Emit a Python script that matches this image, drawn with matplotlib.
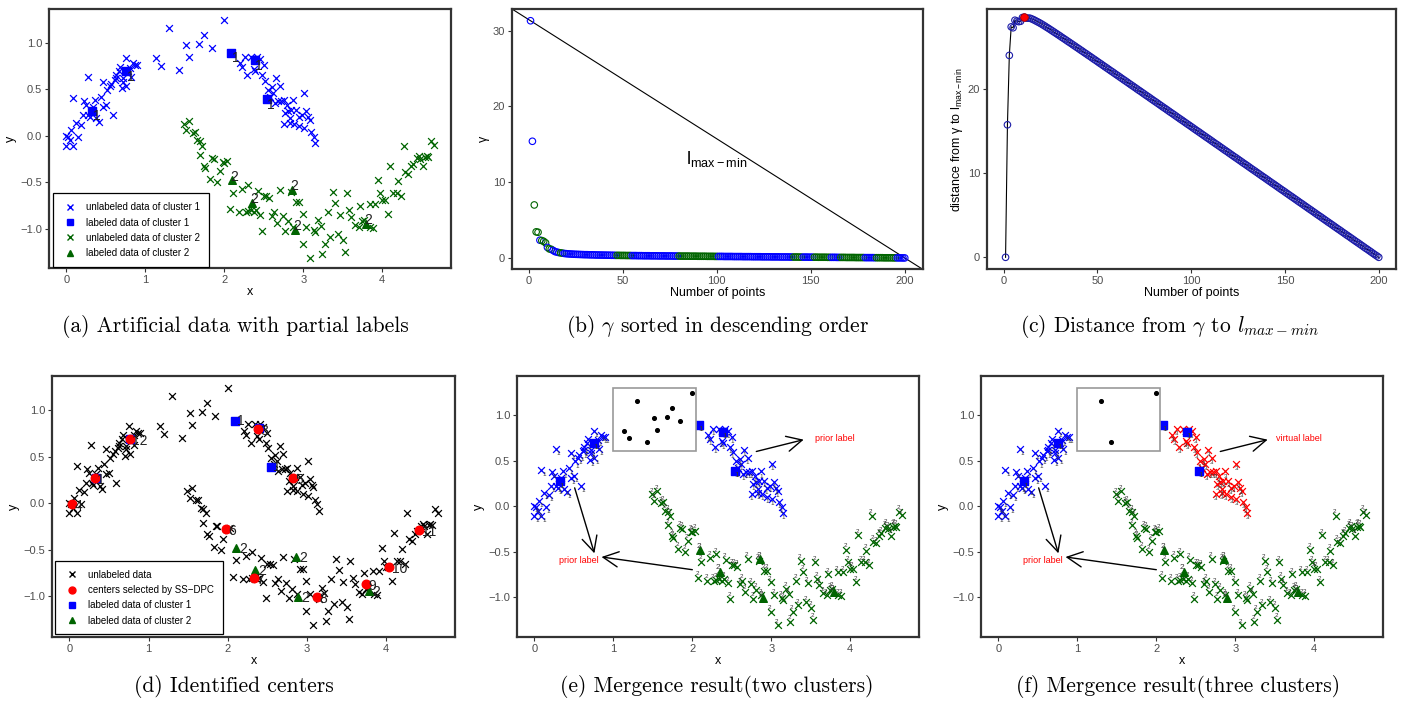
import numpy as np
import matplotlib
matplotlib.use("Agg")
import matplotlib.pyplot as plt
from matplotlib.patches import Rectangle
from matplotlib.lines import Line2D

plt.rcParams['font.family'] = ['Liberation Sans', 'DejaVu Sans']
plt.rcParams['mathtext.fontset'] = 'cm'

# ---- two-moons data ----
c1_left_x = [-0.01, 0.00, 0.05, 0.09, 0.02, 0.06, 0.15, 0.09, 0.12, 0.18,
             0.21, 0.22, 0.25, 0.27, 0.28, 0.34, 0.30, 0.38, 0.41, 0.44,
             0.46, 0.50, 0.51, 0.55, 0.59, 0.57, 0.61, 0.63, 0.66, 0.68,
             0.70, 0.72, 0.75, 0.76, 0.78, 0.81, 0.84, 0.87, 0.89, 0.82,
             0.72, 0.63, 0.46, 0.36]
c1_left_y = [0.00, -0.11, -0.05, -0.11, -0.01, 0.06, -0.01, 0.40, 0.14, 0.12,
             0.22, 0.37, 0.33, 0.63, 0.22, 0.31, 0.20, 0.19, 0.15, 0.42,
             0.58, 0.33, 0.49, 0.53, 0.22, 0.56, 0.60, 0.65, 0.69, 0.74,
             0.51, 0.58, 0.83, 0.53, 0.69, 0.73, 0.78, 0.76, 0.76, 0.63,
             0.62, 0.62, 0.31, 0.38]
c1_arc_x = [1.14, 1.20, 1.30, 1.42, 1.52, 1.55, 1.68, 1.74, 1.84, 2.00]
c1_arc_y = [0.83, 0.75, 1.16, 0.70, 0.97, 0.84, 0.98, 1.08, 0.94, 1.24]
c1_right_x = [2.20, 2.23, 2.26, 2.29, 2.34, 2.37, 2.41, 2.39, 2.45, 2.48,
              2.50, 2.51, 2.55, 2.58, 2.60, 2.62, 2.66, 2.70, 2.64, 2.68,
              2.72, 2.75, 2.79, 2.77, 2.81, 2.75, 2.83, 2.87, 2.85, 2.91,
              2.94, 2.98, 3.01, 2.95, 3.01, 3.04, 3.06, 3.08, 3.10, 3.13,
              3.15, 2.88, 2.83]
c1_right_y = [0.78, 0.74, 0.85, 0.65, 0.85, 0.72, 0.85, 0.69, 0.82, 0.65,
              0.76, 0.59, 0.49, 0.42, 0.52, 0.46, 0.62, 0.53, 0.35, 0.37,
              0.37, 0.38, 0.33, 0.24, 0.26, 0.13, 0.19, 0.38, 0.28, 0.28,
              0.20, 0.22, 0.46, 0.10, 0.08, 0.26, 0.20, 0.17, 0.04, -0.01,
              -0.08, 0.13, 0.14]
c2_x = [1.49, 1.55, 1.52, 1.60, 1.63, 1.66, 1.69, 1.72, 1.69, 1.74,
        1.76, 1.82, 1.85, 1.87, 1.91, 1.94, 1.98, 2.00, 2.03, 2.07,
        2.11, 2.19, 2.23, 2.27, 2.30, 2.30, 2.34, 2.37, 2.40, 2.42,
        2.45, 2.48, 2.50, 2.53, 2.57, 2.60, 2.63, 2.67, 2.70, 2.74,
        2.77, 2.81, 2.84, 2.87, 2.91, 2.95, 2.99, 2.99, 3.04, 3.08,
        3.13, 3.15, 3.19, 3.22, 3.24, 3.27, 3.31, 3.34, 3.37, 3.40,
        3.44, 3.46, 3.50, 3.53, 3.55, 3.58, 3.61, 3.66, 3.70, 3.72,
        3.74, 3.77, 3.84, 3.85, 3.88, 3.91, 3.95, 3.97, 4.00, 4.03,
        4.07, 4.10, 4.14, 4.18, 4.20, 4.24, 4.27, 4.29, 4.33, 4.36,
        4.39, 4.44, 4.46, 4.48, 4.52, 4.56, 4.58, 4.62, 4.65, 4.54]
c2_y = [0.13, 0.16, 0.06, 0.03, 0.04, -0.05, -0.06, -0.11, -0.21, -0.33,
        -0.35, -0.47, -0.24, -0.25, -0.50, -0.38, -0.28, -0.29, -0.27, -0.79,
        -0.61, -0.82, -0.57, -0.82, -0.53, -0.81, -0.80, -0.82, -0.80, -0.59,
        -0.85, -1.02, -0.65, -0.65, -0.67, -0.86, -0.82, -0.94, -0.58, -0.86,
        -1.02, -0.92, -0.60, -0.98, -0.71, -0.71, -0.84, -1.16, -0.98, -1.31,
        -1.01, -1.03, -0.91, -0.97, -1.27, -1.16, -0.82, -1.09, -0.60, -0.72,
        -1.06, -0.85, -1.12, -1.25, -0.62, -0.80, -0.87, -0.96, -0.98, -0.75,
        -0.92, -0.91, -0.73, -0.98, -0.99, -0.73, -0.48, -0.62, -0.69, -0.69,
        -0.84, -0.32, -0.62, -0.62, -0.49, -0.65, -0.11, -0.39, -0.41, -0.33,
        -0.30, -0.24, -0.22, -0.25, -0.33, -0.22, -0.23, -0.06, -0.10, -0.23]
sq_x = [0.33, 0.76, 2.09, 2.39, 2.54]
sq_y = [0.27, 0.69, 0.89, 0.81, 0.39]
sq_shown_d = [2, 4]          # squares not hidden by a centre in panel d
tri_x = [2.10, 2.35, 2.86, 2.89, 3.79]
tri_y = [-0.48, -0.72, -0.58, -1.01, -0.95]

cen_x = [0.32, 0.76, 2.38, 0.03, 2.82, 1.98, 2.33, 3.13, 3.75, 4.04, 4.42]
cen_y = [0.27, 0.69, 0.80, -0.01, 0.27, -0.28, -0.81, -1.01, -0.87, -0.69, -0.29]
cen_lab = ['1', '12', '3', '4', '5', '6', '7', '8', '9', '10', '11']

# points left in the inset of panel f
f_inset_x = [1.30, 1.42, 2.00]
f_inset_y = [1.16, 0.70, 1.24]

# ---- gamma sorted (panel b) ----
gamma = [31.3, 15.4, 7.0, 3.45, 3.4, 2.35, 2.3, 2.2, 2.0, 1.4,
         1.2, 1.15, 1.0, 0.85, 0.78, 0.72, 0.68, 0.64, 0.60, 0.57,
         0.55, 0.53, 0.52, 0.50, 0.49, 0.48, 0.47, 0.46, 0.45, 0.44,
         0.44, 0.43, 0.42, 0.42, 0.41, 0.40, 0.40, 0.39, 0.39, 0.38,
         0.38, 0.37, 0.37, 0.36, 0.36, 0.35, 0.35, 0.35, 0.34, 0.34,
         0.34, 0.33, 0.33, 0.33, 0.32, 0.32, 0.32, 0.31, 0.31, 0.31,
         0.30, 0.30, 0.30, 0.30, 0.29, 0.29, 0.29, 0.29, 0.28, 0.28,
         0.28, 0.28, 0.27, 0.27, 0.27, 0.27, 0.26, 0.26, 0.26, 0.26,
         0.25, 0.25, 0.25, 0.25, 0.25, 0.24, 0.24, 0.24, 0.24, 0.23,
         0.23, 0.23, 0.23, 0.23, 0.22, 0.22, 0.22, 0.22, 0.21, 0.21,
         0.21, 0.21, 0.21, 0.20, 0.20, 0.20, 0.20, 0.20, 0.19, 0.19,
         0.19, 0.19, 0.19, 0.18, 0.18, 0.18, 0.18, 0.18, 0.17, 0.17,
         0.17, 0.17, 0.17, 0.16, 0.16, 0.16, 0.16, 0.16, 0.15, 0.15,
         0.15, 0.15, 0.15, 0.14, 0.14, 0.14, 0.14, 0.14, 0.13, 0.13,
         0.13, 0.13, 0.13, 0.12, 0.12, 0.12, 0.12, 0.12, 0.11, 0.11,
         0.11, 0.11, 0.11, 0.10, 0.10, 0.10, 0.10, 0.10, 0.09, 0.09,
         0.09, 0.09, 0.09, 0.08, 0.08, 0.08, 0.08, 0.08, 0.07, 0.07,
         0.07, 0.07, 0.07, 0.06, 0.06, 0.06, 0.06, 0.06, 0.05, 0.05,
         0.05, 0.05, 0.05, 0.04, 0.04, 0.04, 0.04, 0.04, 0.03, 0.03,
         0.03, 0.03, 0.03, 0.02, 0.02, 0.02, 0.02, 0.02, 0.01, 0.01]
# cluster of each sorted point, as (cluster, run length)
gamma_runs = [('1', 2), ('2', 3), ('1', 1), ('2', 3), ('1', 1), ('2', 2), ('1', 4),
              ('2', 2), ('1', 28), ('2', 8), ('1', 25), ('2', 21), ('1', 40),
              ('2', 5), ('1', 6), ('2', 9), ('1', 5), ('2', 13), ('1', 6),
              ('2', 11), ('1', 5)]

moon_xticks = [0, 1, 2, 3, 4]
moon_yticks = [-1.0, -0.5, 0.0, 0.5, 1.0]
moon_ylabels = ['\u22121.0', '\u22120.5', '0.0', '0.5', '1.0']

BLUE, GREEN, RED = '#0000FF', '#006400', '#FF0000'

W, H = 1406, 709
fig = plt.figure(figsize=(W / 100, H / 100), dpi=100)


def box(l, t, r, b):
    return fig.add_axes([l / W, 1 - b / H, (r - l) / W, (b - t) / H])


def style(ax, xlabel, ylabel):
    for s in ax.spines.values():
        s.set_linewidth(1.6)
        s.set_color('#333333')
    ax.tick_params(direction='out', length=3, width=0.8, color='#333333',
                   labelsize=8, labelcolor='#4d4d4d', pad=2)
    ax.set_xlabel(xlabel, fontsize=9, labelpad=1)
    ax.set_ylabel(ylabel, fontsize=9, labelpad=2)


def moon(ax, ylim=(-1.42, 1.36)):
    ax.set_xlim(-0.22, 4.87)
    ax.set_ylim(*ylim)
    ax.set_xticks(moon_xticks)
    ax.set_yticks(moon_yticks)
    ax.set_yticklabels(moon_ylabels)
    style(ax, 'x', 'y')


def xs(ax, x, y, c, s=24, lw=0.9):
    ax.scatter(x, y, marker='x', s=s, c=c, linewidths=lw, zorder=2)


def tags(ax, x, y, t, dx, dy, size=4.5, color='#333333'):
    for xi, yi in zip(x, y):
        ax.text(xi + dx, yi + dy, t, fontsize=size, color=color,
                ha='center', va='center', zorder=3)


def legend(ax, handles, labels, anchor):
    lg = ax.legend(handles, labels, loc='lower left', bbox_to_anchor=anchor,
                   borderaxespad=0, fontsize=7, fancybox=False, edgecolor='black',
                   framealpha=1, labelspacing=0.55, borderpad=0.9,
                   handletextpad=0.9, handlelength=1.6)
    lg.get_frame().set_linewidth(0.9)


c1_all_x = c1_left_x + c1_arc_x + c1_right_x
c1_all_y = c1_left_y + c1_arc_y + c1_right_y

# ---- (a) ----
ax = box(49, 9, 451, 268)
xs(ax, c1_all_x, c1_all_y, BLUE)
ax.scatter(sq_x, sq_y, marker='s', s=30, c=BLUE, zorder=3)
xs(ax, c2_x, c2_y, GREEN)
ax.scatter(tri_x, tri_y, marker='^', s=30, c=GREEN, zorder=3)
tags(ax, sq_x, sq_y, '1', 0.05, -0.06, size=10, color='#222222')
tags(ax, tri_x, tri_y, '2', 0.03, 0.04, size=10, color='#222222')
moon(ax)
legend(ax, [Line2D([], [], ls='', marker='x', color=BLUE, ms=5),
            Line2D([], [], ls='', marker='s', color=BLUE, ms=5),
            Line2D([], [], ls='', marker='x', color=GREEN, ms=5),
            Line2D([], [], ls='', marker='^', color=GREEN, ms=5)],
       ['unlabeled data of cluster 1', 'labeled data of cluster 1',
        'unlabeled data of cluster 2', 'labeled data of cluster 2'], (0.01, 0.004))

# ---- (b) ----
ax = box(512, 9, 923, 269)
idx = np.arange(1, len(gamma) + 1)
clu = ''.join(c * n for c, n in gamma_runs)
cols = [BLUE if c == '1' else GREEN for c in clu]
ax.axline((1, gamma[0]), (len(gamma), gamma[-1]), color='black', lw=0.8)
ax.scatter(idx, gamma, s=22, facecolors='none', edgecolors=cols, linewidths=0.8, zorder=3)
ax.text(100, 13.0, r'$\mathregular{l_{max-min}}$', fontsize=13, ha='center', va='center')
ax.set_xlim(-8.85, 209.7)
ax.set_ylim(-1.45, 32.85)
ax.set_xticks([0, 50, 100, 150, 200])
ax.set_yticks([0, 10, 20, 30])
style(ax, 'Number of points', 'γ')

# ---- (c) ----
ax = box(987, 9, 1396, 269)
g = np.array(gamma)
line = g[0] + (g[-1] - g[0]) * (idx - 1) / (len(g) - 1)
dist = line - g
k = int(np.argmax(dist))
ax.plot(idx, dist, color='black', lw=0.8, zorder=2)
ax.scatter(idx, dist, s=22, facecolors='none', edgecolors='#1c1ca8', linewidths=0.8, zorder=3)
ax.scatter(idx[k], dist[k], s=30, c=RED, edgecolors='#aa0000', linewidths=0.6, zorder=4)
ax.set_xlim(-8.9, 209.2)
ax.set_ylim(-1.39, 29.5)
ax.set_xticks([0, 50, 100, 150, 200])
ax.set_yticks([0, 10, 20])
style(ax, 'Number of points', r'distance from γ to $\mathregular{l_{max-min}}$')

# ---- (d) ----
ax = box(52, 376, 455, 637)
xs(ax, c1_all_x + c2_x, c1_all_y + c2_y, 'black')
ax.scatter(sq_x, sq_y, marker='s', s=30, c=BLUE, zorder=3)
ax.scatter(tri_x, tri_y, marker='^', s=30, c=GREEN, zorder=3)
ax.scatter(cen_x, cen_y, marker='o', s=38, c=RED, zorder=4)
tags(ax, [sq_x[i] for i in sq_shown_d], [sq_y[i] for i in sq_shown_d], '1', 0.08, 0.0,
     size=10, color='#222222')
tags(ax, tri_x, tri_y, '2', 0.09, -0.01, size=10, color='#222222')
for xi, yi, t in zip(cen_x, cen_y, cen_lab):
    ax.text(xi + 0.03, yi - 0.02, t, fontsize=10, color='#222222', ha='left', va='center', zorder=5)
moon(ax, (-1.44, 1.37))
legend(ax, [Line2D([], [], ls='', marker='x', color='black', ms=5),
            Line2D([], [], ls='', marker='o', color=RED, ms=5),
            Line2D([], [], ls='', marker='s', color=BLUE, ms=5),
            Line2D([], [], ls='', marker='^', color=GREEN, ms=5)],
       ['unlabeled data', 'centers selected by SS\u2212DPC',
        'labeled data of cluster 1', 'labeled data of cluster 2'], (0.008, 0.01))


def merged(ax, right_col, right_tag, inset_x, inset_y, note):
    xs(ax, c1_left_x, c1_left_y, BLUE)
    xs(ax, c1_right_x, c1_right_y, right_col)
    xs(ax, c2_x, c2_y, GREEN)
    tags(ax, c1_left_x, c1_left_y, '1', 0.03, -0.05)
    tags(ax, c1_right_x, c1_right_y, right_tag, 0.0, -0.05)
    tags(ax, c2_x, c2_y, '2', -0.01, 0.045)
    ax.scatter(sq_x, sq_y, marker='s', s=30, c=BLUE, zorder=3)
    ax.scatter(tri_x, tri_y, marker='^', s=30, c=GREEN, zorder=3)
    tags(ax, sq_x, sq_y, '1', 0.02, -0.05, size=6)
    tags(ax, tri_x, tri_y, '2', -0.02, 0.04, size=6)
    ax.add_patch(Rectangle((0.99, 0.60), 1.06, 0.70, facecolor='white',
                           edgecolor='#999999', lw=1.2, zorder=6))
    ax.scatter(inset_x, inset_y, s=7, c='black', zorder=7)
    ap = dict(arrowstyle='->,head_length=1.1,head_width=0.55', lw=1.0,
              color='black', shrinkA=0, shrinkB=0)
    ax.annotate('', xy=(0.76, -0.52), xytext=(0.51, 0.20), arrowprops=ap, zorder=8)
    ax.annotate('', xy=(0.85, -0.56), xytext=(2.00, -0.70), arrowprops=ap, zorder=8)
    ax.annotate('', xy=(3.41, 0.73), xytext=(2.81, 0.60), arrowprops=ap, zorder=8)
    ax.text(0.56, -0.60, 'prior label', color=RED, fontsize=6.5, ha='center', va='center')
    ax.text(3.81, 0.74, note, color=RED, fontsize=6.5, ha='center', va='center')
    moon(ax, (-1.44, 1.43))


# ---- (e) ----
ax = box(517, 376, 919, 637)
merged(ax, BLUE, '1', c1_arc_x, c1_arc_y, 'prior label')

# ---- (f) ----
ax = box(981, 376, 1383, 637)
merged(ax, RED, '3', f_inset_x, f_inset_y, 'virtual label')

# ---- captions ----
caps = [(235, 327, '(a) Artificial data with partial labels'),
        (718, 327, r'(b) $\gamma$ sorted in descending order'),
        (1170, 327, r'(c) Distance from $\gamma$ to $l_{max-min}$'),
        (234, 687, '(d) Identified centers'),
        (717, 687, '(e) Mergence result(two clusters)'),
        (1178, 687, '(f) Mergence result(three clusters)')]
for cx, cy, t in caps:
    fig.text(cx / W, 1 - cy / H, t, ha='center', va='center', fontsize=15.5, family='cmr10')

fig.savefig('out.png', dpi=100)
